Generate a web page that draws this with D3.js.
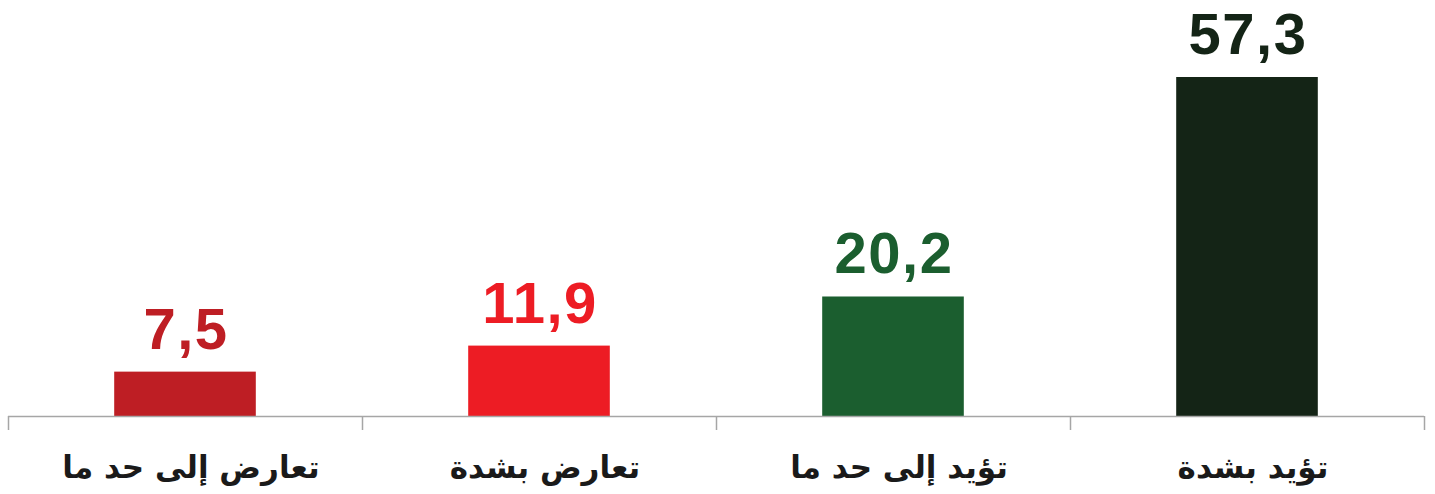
<!DOCTYPE html>
<html lang="ar">
<head>
<meta charset="utf-8">
<script src="https://cdn.jsdelivr.net/npm/d3@7"></script>
<style>
  html, body { margin: 0; padding: 0; background: #fff; }
  svg { display: block; }
</style>
</head>
<body>
<svg id="chart" width="1435" height="494"></svg>
<script>
// Response categories, left to right
const categories = ["تعارض إلى حد ما", "تعارض بشدة", "تؤيد إلى حد ما", "تؤيد بشدة"];
// Share of respondents (%)
const values = [7.5, 11.9, 20.2, 57.3];
// Bar / label colour per category
const colors = ["#BE1E24", "#ED1C24", "#1B5E2F", "#142416"];

const svg = d3.select("#chart");
const left = 8, right = 1424, baseY = 416;

const x = d3.scaleBand()
  .domain(categories)
  .range([left, right])
  .paddingInner(0.6)
  .paddingOuter(0.3);

const y = d3.scaleLinear()
  .domain([0, 70])
  .range([baseY, baseY - 70 * (339 / 57.3)]);

const fmt = v => d3.format(".1f")(v).replace(".", ",");

// Bars
svg.append("g").selectAll("rect")
  .data(values)
  .join("rect")
  .attr("x", (d, i) => x(categories[i]))
  .attr("y", d => y(d))
  .attr("width", x.bandwidth())
  .attr("height", d => y(0) - y(d))
  .attr("fill", (d, i) => colors[i]);

// Value labels
svg.append("g").selectAll("text")
  .data(values)
  .join("text")
  .attr("x", (d, i) => x(categories[i]) + x.bandwidth() / 2 + 1)
  .attr("y", d => y(d) - 23)
  .attr("text-anchor", "middle")
  .attr("font-family", "'Liberation Sans', Arial, sans-serif")
  .attr("font-weight", "bold")
  .attr("font-size", 58)
  .attr("letter-spacing", 1.5)
  .attr("fill", (d, i) => colors[i])
  .text(d => fmt(d));

// Category axis: baseline with ticks at band boundaries
const axis = svg.append("g");
axis.append("line")
  .attr("x1", left).attr("x2", right)
  .attr("y1", baseY + 0.5).attr("y2", baseY + 0.5)
  .attr("stroke", "#A6A6A6").attr("stroke-width", 1.5);

const step = x.step();
const boundaries = d3.range(categories.length + 1).map(i => left + i * step);
axis.selectAll("line.tick")
  .data(boundaries)
  .join("line")
  .attr("class", "tick")
  .attr("x1", d => Math.round(d) + 0.5).attr("x2", d => Math.round(d) + 0.5)
  .attr("y1", baseY).attr("y2", baseY + 14)
  .attr("stroke", "#A6A6A6").attr("stroke-width", 1.5);

axis.selectAll("text")
  .data(categories)
  .join("text")
  .attr("x", d => x(d) + x.bandwidth() / 2 + 6)
  .attr("y", 478)
  .attr("text-anchor", "middle")
  .attr("direction", "rtl")
  .attr("font-family", "'DejaVu Sans', sans-serif")
  .attr("font-weight", "bold")
  .attr("font-size", 31)
  .attr("fill", "#1a1a1a")
  .text(d => d);
</script>
</body>
</html>
